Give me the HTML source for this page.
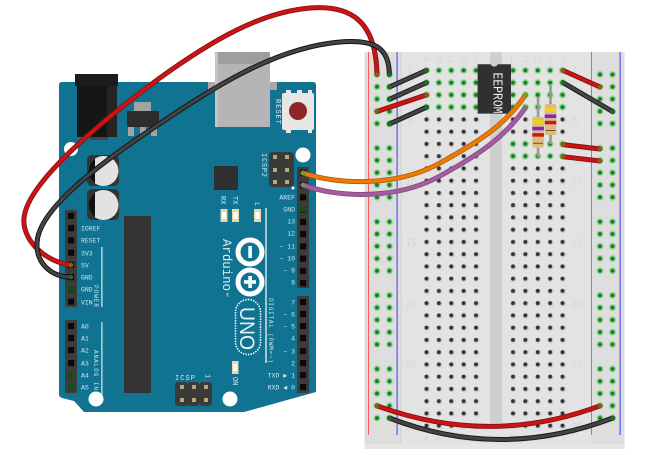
<!DOCTYPE html>
<html>
<head>
<meta charset="utf-8">
<style>
html,body{margin:0;padding:0;background:#fff;width:651px;height:455px;overflow:hidden}
svg{display:block}
text{font-family:"Liberation Mono",monospace}
.l{fill:#cfe6ee;font-size:6.5px}
.b{fill:#d6d6d6;font-size:9px;font-family:"Liberation Sans",sans-serif;text-anchor:middle}
.n{fill:#d6d6d6;font-size:10px;font-family:"Liberation Sans",sans-serif;text-anchor:middle}
.o{fill:none;stroke-linecap:round}
</style>
</head>
<body>
<svg width="651" height="455" viewBox="0 0 651 455" xmlns="http://www.w3.org/2000/svg">
<defs>
<pattern id="pd" patternUnits="userSpaceOnUse" x="420.31" y="64.275" width="12.38" height="12.25">
<circle cx="6.6" cy="6.6" r="3" fill="#cfcfcf"/><circle cx="6.19" cy="6.125" r="2" fill="#333"/>
</pattern>
<pattern id="pg" patternUnits="userSpaceOnUse" x="420.31" y="64.275" width="12.38" height="12.25">
<circle cx="6.19" cy="6.125" r="3.5" fill="#86df86"/><circle cx="6.19" cy="6.125" r="2" fill="#2a6f3a"/>
</pattern>
<pattern id="pdr" patternUnits="userSpaceOnUse" x="506.81" y="64.275" width="12.38" height="12.25">
<circle cx="6.6" cy="6.6" r="3" fill="#cfcfcf"/><circle cx="6.19" cy="6.125" r="2" fill="#333"/>
</pattern>
<pattern id="pgr" patternUnits="userSpaceOnUse" x="506.81" y="64.275" width="12.38" height="12.25">
<circle cx="6.19" cy="6.125" r="3.5" fill="#86df86"/><circle cx="6.19" cy="6.125" r="2" fill="#2a6f3a"/>
</pattern>
<pattern id="rl" patternUnits="userSpaceOnUse" x="370.75" y="68.365" width="12.5" height="12.27">
<circle cx="6.25" cy="6.135" r="3.5" fill="#86df86"/><circle cx="6.25" cy="6.135" r="2" fill="#2a6f3a"/>
</pattern>
<pattern id="rr" patternUnits="userSpaceOnUse" x="593.75" y="68.365" width="12.5" height="12.27">
<circle cx="6.25" cy="6.135" r="3.5" fill="#86df86"/><circle cx="6.25" cy="6.135" r="2" fill="#2a6f3a"/>
</pattern>
<pattern id="h1" patternUnits="userSpaceOnUse" x="65" y="209.8" width="12" height="12.25">
<rect x="3" y="3" width="6.2" height="6.2" fill="#0a0a0a"/>
</pattern>
<pattern id="h2" patternUnits="userSpaceOnUse" x="297" y="166.8" width="12" height="12.25">
<rect x="3" y="3" width="6.2" height="6.2" fill="#0a0a0a"/>
</pattern>
<clipPath id="c1"><rect x="80" y="150" width="15" height="75"/></clipPath>
</defs>

<!-- ARDUINO -->
<path d="M62 82H313Q316 82 316 85V392L244 412H84L74 401L62 398Q59 397 59 394V85Q59 82 62 82Z" fill="#0f7391"/>
<rect x="77" y="86" width="40" height="51" fill="#161616"/>
<rect x="107" y="86" width="10" height="51" fill="#242424"/>
<rect x="75" y="74" width="43" height="12" fill="#1c1c1c"/>
<rect x="90" y="137" width="18" height="3" fill="#444"/>
<circle cx="71" cy="149" r="7" fill="#fff"/>
<circle cx="303" cy="155" r="7.5" fill="#fff"/>
<circle cx="96" cy="399" r="7.5" fill="#fff"/>
<circle cx="230" cy="399" r="7.5" fill="#fff"/>

<!-- USB -->
<rect x="208" y="82" width="8" height="8" fill="#a8a8a8"/>
<rect x="269" y="82" width="8" height="8" fill="#a8a8a8"/>
<rect x="215" y="52" width="55" height="75" fill="#b5b5b5"/>
<rect x="218" y="52" width="52" height="12" fill="#9e9e9e"/>
<rect x="215" y="52" width="3" height="75" fill="#c4c4c4"/>

<!-- reset -->
<rect x="282" y="93" width="32" height="37" rx="2" fill="#e6e6e6"/>
<rect x="286" y="90" width="5" height="4" fill="#e6e6e6"/>
<rect x="297" y="90" width="5" height="4" fill="#e6e6e6"/>
<rect x="308" y="90" width="4" height="4" fill="#e6e6e6"/>
<rect x="286" y="129" width="5" height="4" fill="#e6e6e6"/>
<rect x="308" y="129" width="4" height="4" fill="#e6e6e6"/>
<circle cx="298" cy="111" r="9" fill="#8e2626"/>
<text class="l" transform="translate(276,99) rotate(90)" textLength="25" style="fill:#dfeef3;font-size:7px">RESET</text>

<!-- regulator -->
<rect x="134" y="102" width="17" height="9" fill="#a3a3a3"/>
<rect x="128" y="127" width="6" height="9" fill="#a3a3a3"/>
<rect x="140" y="127" width="6" height="9" fill="#a3a3a3"/>
<rect x="151" y="127" width="6" height="9" fill="#a3a3a3"/>
<rect x="127" y="111" width="32" height="16" fill="#2d2d2d"/>

<!-- capacitors -->
<rect x="87" y="155" width="32" height="31" rx="5" fill="#333"/>
<rect x="87" y="189" width="32" height="31" rx="5" fill="#333"/>
<circle cx="103.5" cy="171" r="15" fill="#e2e2e2"/>
<circle cx="103.5" cy="205" r="15" fill="#e2e2e2"/>
<circle cx="103.5" cy="171" r="15" fill="#111" clip-path="url(#c1)"/>
<circle cx="103.5" cy="205" r="15" fill="#111" clip-path="url(#c1)"/>

<!-- chips -->
<rect x="214" y="166" width="24" height="24" fill="#2f2f2f"/>
<rect x="124" y="216" width="27" height="177" fill="#333"/>

<!-- ICSP2 -->
<rect x="269" y="152" width="25" height="35" rx="4" fill="#3a3a3a"/>
<g fill="#b9a878">
<rect x="273" y="155" width="4" height="4"/><rect x="285" y="155" width="4" height="4"/>
<rect x="273" y="168" width="4" height="4"/><rect x="285" y="168" width="4" height="4"/>
<rect x="273" y="180" width="4" height="4"/><rect x="285" y="180" width="4" height="4"/>
</g>
<circle cx="293" cy="188" r="1.5" fill="#fff"/>
<text class="l" transform="translate(262,153) rotate(90)" textLength="24" style="font-size:7px">ICSP2</text>

<!-- LEDs -->
<g>
<rect x="220.5" y="209" width="7" height="13" fill="#e8d8a8"/><rect x="222" y="212" width="4" height="7" fill="#fff"/>
<rect x="232" y="209" width="7" height="13" fill="#e8d8a8"/><rect x="233.5" y="212" width="4" height="7" fill="#fff"/>
<rect x="254" y="209" width="7" height="13" fill="#e8d8a8"/><rect x="255.5" y="212" width="4" height="7" fill="#fff"/>
<rect x="232" y="361" width="6.5" height="13" fill="#e8d8a8"/><rect x="233.3" y="364" width="4" height="7" fill="#fff"/>
</g>
<text class="l" transform="translate(221,196) rotate(90)" style="font-size:7px">RX</text>
<text class="l" transform="translate(233,196) rotate(90)" style="font-size:7px">TX</text>
<text class="l" transform="translate(255,202) rotate(90)" style="font-size:7px">L</text>
<text class="l" transform="translate(233,377) rotate(90)" style="font-size:7px">ON</text>

<rect x="265.3" y="208" width="1.4" height="155" fill="#dcecf1"/>
<rect x="101.3" y="247" width="1.2" height="60" fill="#dcecf1"/>
<rect x="101.3" y="322" width="1.2" height="73" fill="#dcecf1"/>

<!-- headers -->
<rect x="65" y="210" width="12" height="97" fill="#3c3c3c"/>
<rect x="65" y="210" width="12" height="97" fill="url(#h1)"/>
<rect x="65" y="320" width="12" height="73" fill="#3c3c3c"/>
<g fill="#0a0a0a">
<rect x="68" y="323" width="6.2" height="6.2"/><rect x="68" y="335" width="6.2" height="6.2"/><rect x="68" y="347" width="6.2" height="6.2"/><rect x="68" y="360" width="6.2" height="6.2"/>
</g>
<g fill="#134d1c">
<rect x="68" y="372" width="6.2" height="6.2"/><rect x="68" y="384" width="6.2" height="6.2"/><rect x="68" y="286" width="6.2" height="6.2"/>
</g>
<rect x="297" y="167" width="12" height="121" fill="#3c3c3c"/>
<rect x="297" y="167" width="12" height="121" fill="url(#h2)"/>
<rect x="300" y="206" width="6.2" height="6.2" fill="#134d1c"/>
<rect x="297" y="296" width="12" height="97" fill="#3c3c3c"/>
<g fill="#0a0a0a">
<rect x="300" y="299" width="6.2" height="6.2"/><rect x="300" y="311" width="6.2" height="6.2"/><rect x="300" y="323" width="6.2" height="6.2"/><rect x="300" y="335" width="6.2" height="6.2"/><rect x="300" y="348" width="6.2" height="6.2"/><rect x="300" y="360" width="6.2" height="6.2"/><rect x="300" y="372" width="6.2" height="6.2"/><rect x="300" y="384" width="6.2" height="6.2"/>
</g>

<!-- left labels -->
<g class="l">
<text class="l" x="81" y="230.5">IOREF</text>
<text class="l" x="81" y="242.5">RESET</text>
<text class="l" x="81" y="255.5">3V3</text>
<text class="l" x="81" y="267.5">5V</text>
<text class="l" x="81" y="279.5">GND</text>
<text class="l" x="81" y="291.5">GND</text>
<text class="l" x="81" y="304.5">VIN</text>
<text class="l" x="81" y="328.5">A0</text>
<text class="l" x="81" y="340.5">A1</text>
<text class="l" x="81" y="352.5">A2</text>
<text class="l" x="81" y="365.5">A3</text>
<text class="l" x="81" y="377.5">A4</text>
<text class="l" x="81" y="389.5">A5</text>
</g>
<text class="l" transform="translate(94,285) rotate(90)" textLength="22" style="font-size:6px">POWER</text>
<text class="l" transform="translate(94,350) rotate(90)" textLength="40" style="font-size:6px">ANALOG IN</text>

<!-- right labels -->
<g text-anchor="end">
<text class="l" x="295" y="199.5" text-anchor="end">AREF</text>
<text class="l" x="295" y="211.5" text-anchor="end">GND</text>
<text class="l" x="295" y="223.5" text-anchor="end">13</text>
<text class="l" x="295" y="235.5" text-anchor="end">12</text>
<text class="l" x="295" y="248.5" text-anchor="end">~ 11</text>
<text class="l" x="295" y="260.5" text-anchor="end">~ 10</text>
<text class="l" x="295" y="272.5" text-anchor="end">~ 9</text>
<text class="l" x="295" y="284.5" text-anchor="end">8</text>
<text class="l" x="295" y="304.5" text-anchor="end">7</text>
<text class="l" x="295" y="316.5" text-anchor="end">~ 6</text>
<text class="l" x="295" y="328.5" text-anchor="end">~ 5</text>
<text class="l" x="295" y="340.5" text-anchor="end">4</text>
<text class="l" x="295" y="353.5" text-anchor="end">~ 3</text>
<text class="l" x="295" y="365.5" text-anchor="end">2</text>
<text class="l" x="295" y="377.5" text-anchor="end">TXD ▶ 1</text>
<text class="l" x="295" y="389.5" text-anchor="end">RXD ◀ 0</text>
</g>
<text class="l" transform="translate(269,298) rotate(90)" textLength="65" style="font-size:6px">DIGITAL (PWM=~)</text>

<!-- logo -->
<circle cx="250" cy="252" r="12" fill="none" stroke="#fff" stroke-width="5"/>
<circle cx="250" cy="282" r="12" fill="none" stroke="#fff" stroke-width="5"/>
<rect x="248.3" y="246" width="3.6" height="12" fill="#fff"/>
<rect x="248.3" y="276" width="3.6" height="12" fill="#fff"/>
<rect x="244" y="280.2" width="12" height="3.6" fill="#fff"/>
<text transform="translate(223,239) rotate(90)" textLength="52" fill="#dcecf1" style="font-size:12.5px">Arduino</text>
<text transform="translate(226,292) rotate(90)" fill="#dcecf1" style="font-size:4px">TM</text>

<rect x="235.5" y="299.5" width="25" height="55" rx="12.5" fill="none" stroke="#fff" stroke-width="1.6" stroke-dasharray="1.4 1.2"/>
<text transform="translate(240,307) rotate(90)" textLength="43" lengthAdjust="spacingAndGlyphs" fill="#e8f3f6" style="font-family:'Liberation Sans',sans-serif;font-size:21px">UNO</text>

<!-- ICSP -->
<rect x="175" y="382" width="12.5" height="24" rx="3" fill="#3a3a3a"/>
<rect x="187" y="382" width="12.5" height="24" rx="3" fill="#3a3a3a"/>
<rect x="199.5" y="382" width="12.5" height="24" rx="3" fill="#3a3a3a"/>
<g fill="#b9a878">
<rect x="180" y="385" width="4" height="4"/><rect x="192" y="385" width="4" height="4"/><rect x="204" y="385" width="4" height="4"/>
<rect x="180" y="398" width="4" height="4"/><rect x="192" y="398" width="4" height="4"/><rect x="204" y="398" width="4" height="4"/>
</g>
<text class="l" x="175" y="380" textLength="20" style="font-size:7px">ICSP</text>
<text class="l" transform="translate(205.5,374) rotate(90)" style="font-size:7px">1</text>

<!-- BREADBOARD -->
<rect x="364.5" y="52" width="260" height="397" fill="#dedede"/>
<rect x="401" y="52" width="190" height="392" fill="#e3e3e3"/>
<rect x="490" y="52" width="12" height="371" fill="#cfcfcf"/>
<rect x="400.5" y="52" width="1" height="392" fill="#d2d2d2"/>
<rect x="364.5" y="444" width="260" height="5" fill="#e6e6e6"/>
<rect x="368" y="52" width="1" height="383" fill="#ff5a5a"/>
<rect x="396.6" y="52" width="1" height="383" fill="#3a3aff"/>
<rect x="591" y="52" width="1" height="383" fill="#ff5a5a"/>
<rect x="619.6" y="52" width="1" height="383" fill="#3a3aff"/>

<g>
<text class="b" x="426.5" y="62">A</text><text class="b" x="438.9" y="62">B</text><text class="b" x="451.3" y="62">C</text><text class="b" x="463.7" y="62">D</text><text class="b" x="476" y="62">E</text>
<text class="b" x="513" y="62">F</text><text class="b" x="525.4" y="62">G</text><text class="b" x="537.8" y="62">H</text><text class="b" x="550.2" y="62">I</text><text class="b" x="562.6" y="62">J</text>
<text class="b" x="426.5" y="442">A</text><text class="b" x="438.9" y="442">B</text><text class="b" x="451.3" y="442">C</text><text class="b" x="463.7" y="442">D</text><text class="b" x="476" y="442">E</text>
<text class="b" x="513" y="442">F</text><text class="b" x="525.4" y="442">G</text><text class="b" x="537.8" y="442">H</text><text class="b" x="550.2" y="442">I</text><text class="b" x="562.6" y="442">J</text>
<text class="n" x="410" y="74">1</text><text class="n" x="410" y="123.5">5</text><text class="n" x="411" y="185">10</text><text class="n" x="411" y="246">15</text><text class="n" x="411" y="307.5">20</text><text class="n" x="411" y="368.5">25</text><text class="n" x="411" y="430">30</text>
<text class="n" x="575" y="74">1</text><text class="n" x="575" y="123.5">5</text><text class="n" x="577" y="185">10</text><text class="n" x="577" y="246">15</text><text class="n" x="577" y="307.5">20</text><text class="n" x="577" y="368.5">25</text><text class="n" x="577" y="430">30</text>
</g>

<!-- holes -->
<rect x="370.75" y="68.365" width="25" height="61.35" fill="url(#rl)"/>
<rect x="370.75" y="141.985" width="25" height="61.35" fill="url(#rl)"/>
<rect x="370.75" y="215.605" width="25" height="61.35" fill="url(#rl)"/>
<rect x="370.75" y="289.225" width="25" height="61.35" fill="url(#rl)"/>
<rect x="370.75" y="362.845" width="25" height="61.35" fill="url(#rl)"/>
<rect x="593.75" y="68.365" width="25" height="61.35" fill="url(#rr)"/>
<rect x="593.75" y="141.985" width="25" height="61.35" fill="url(#rr)"/>
<rect x="593.75" y="215.605" width="25" height="61.35" fill="url(#rr)"/>
<rect x="593.75" y="289.225" width="25" height="61.35" fill="url(#rr)"/>
<rect x="593.75" y="362.845" width="25" height="61.35" fill="url(#rr)"/>

<rect x="420.31" y="64.275" width="61.9" height="49" fill="url(#pg)"/>
<rect x="420.31" y="113.275" width="61.9" height="318.5" fill="url(#pd)"/>
<rect x="506.81" y="64.275" width="61.9" height="49" fill="url(#pgr)"/>
<rect x="506.81" y="113.275" width="61.9" height="24.5" fill="url(#pdr)"/>
<rect x="531.57" y="113.275" width="24.76" height="24.5" fill="url(#pgr)"/>
<rect x="506.81" y="137.775" width="61.9" height="24.5" fill="url(#pgr)"/>
<rect x="506.81" y="162.275" width="61.9" height="269.5" fill="url(#pdr)"/>

<!-- IC -->
<path d="M477.6 64.3H490.5Q494.3 69 498 64.3H511V113.6H477.6Z" fill="#303030"/>
<text transform="translate(493.5,72.5) rotate(90)" textLength="41" lengthAdjust="spacingAndGlyphs" fill="#ececec" style="font-size:14px">EEPROM</text>

<!-- resistors -->
<rect x="536.8" y="97" width="2.6" height="60" fill="#9a9a9a"/>
<rect x="549.2" y="84" width="2.6" height="60" fill="#9a9a9a"/>
<rect x="532.3" y="116.7" width="11.6" height="30.8" rx="2" fill="#dcbc82"/>
<rect x="532.3" y="120" width="11.6" height="3.5" fill="#f2d21a"/>
<rect x="532.3" y="126.8" width="11.6" height="3.5" fill="#8a1fc4"/>
<rect x="532.3" y="133.2" width="11.6" height="3.5" fill="#c81818"/>
<rect x="533" y="142.8" width="10" height="1" fill="#6d5a20"/>
<rect x="544.7" y="104" width="11.6" height="31" rx="2" fill="#dcbc82"/>
<rect x="544.7" y="108.2" width="11.6" height="3.5" fill="#f2d21a"/>
<rect x="544.7" y="114.5" width="11.6" height="3.5" fill="#8a1fc4"/>
<rect x="544.7" y="120.8" width="11.6" height="3.5" fill="#c81818"/>
<rect x="545.5" y="130" width="10" height="1" fill="#6d5a20"/>

<!-- short wires -->
<g class="o" stroke="#1d1d1d" stroke-width="5">
<path d="M389.4 87L426.5 70.4"/><path d="M389.4 99.3L426.5 82.6"/><path d="M389.4 124L426.5 107.2"/>
<path d="M563 82.6L612.7 111.6"/>
</g>
<g class="o" stroke="#444" stroke-width="3">
<path d="M389.4 87L426.5 70.4"/><path d="M389.4 99.3L426.5 82.6"/><path d="M389.4 124L426.5 107.2"/>
<path d="M563 82.6L612.7 111.6"/>
</g>
<g class="o" stroke="#8a1212" stroke-width="5">
<path d="M377 111.5L426.5 94.9"/><path d="M563 70.4L600 87"/><path d="M563 144.6L600 149"/><path d="M563 156.7L600 161"/>
</g>
<g class="o" stroke="#cc1414" stroke-width="3">
<path d="M377 111.5L426.5 94.9"/><path d="M563 70.4L600 87"/><path d="M563 144.6L600 149"/><path d="M563 156.7L600 161"/>
</g>

<!-- bottom wires -->
<path class="o" d="M389.4 418Q500 461 612.7 418" stroke="#1d1d1d" stroke-width="5"/>
<path class="o" d="M389.4 418Q500 461 612.7 418" stroke="#444" stroke-width="3"/>
<path class="o" d="M377 405.8Q490 447 600 405.8" stroke="#8a1212" stroke-width="5"/>
<path class="o" d="M377 405.8Q490 447 600 405.8" stroke="#cc1414" stroke-width="3"/>

<!-- orange & purple -->
<path class="o" d="M303 173C335 184 395 188 440 163C480 141 505 125 525.5 95" stroke="#a85a10" stroke-width="5"/>
<path class="o" d="M303 173C335 184 395 188 440 163C480 141 505 125 525.5 95" stroke="#ef7a00" stroke-width="3.4"/>
<path class="o" d="M303 185C335 197 395 201 440 176C480 154 505 137 525.5 107.5" stroke="#7c4a78" stroke-width="5"/>
<path class="o" d="M303 185C335 197 395 201 440 176C480 154 505 137 525.5 107.5" stroke="#a85aa0" stroke-width="3.4"/>

<!-- long wires -->
<path class="o" d="M71 265C45 262 22 240 24 218C27 185 90 130 157 80C215 38 262 12 310 8C350 5 376 20 377 74.5" stroke="#8a1212" stroke-width="5"/>
<path class="o" d="M71 265C45 262 22 240 24 218C27 185 90 130 157 80C215 38 262 12 310 8C350 5 376 20 377 74.5" stroke="#cc1414" stroke-width="3.2"/>
<path class="o" d="M71 277C50 277 36 262 37 243C38 215 80 178 140 137C205 93 270 48 340 42C378 39 389 50 389.4 74.5" stroke="#151515" stroke-width="5"/>
<path class="o" d="M71 277C50 277 36 262 37 243C38 215 80 178 140 137C205 93 270 48 340 42C378 39 389 50 389.4 74.5" stroke="#444" stroke-width="3"/>

<!-- wire end caps -->
<g fill="#8b5a1c">
<circle cx="377" cy="74.5" r="2.3"/><circle cx="377" cy="111.5" r="2.3"/><circle cx="426.5" cy="94.9" r="2.3"/><circle cx="563" cy="70.4" r="2.3"/><circle cx="600" cy="87" r="2.3"/><circle cx="563" cy="144.6" r="2.3"/><circle cx="600" cy="149" r="2.3"/><circle cx="563" cy="156.7" r="2.3"/><circle cx="600" cy="161" r="2.3"/><circle cx="377" cy="405.8" r="2.3"/><circle cx="600" cy="405.8" r="2.3"/><circle cx="71" cy="265" r="2.3"/>
</g>
<g fill="#1f6b2c">
<circle cx="389.4" cy="74.5" r="2.3"/><circle cx="389.4" cy="87" r="2.3"/><circle cx="426.5" cy="70.4" r="2.3"/><circle cx="389.4" cy="99.3" r="2.3"/><circle cx="426.5" cy="82.6" r="2.3"/><circle cx="389.4" cy="124" r="2.3"/><circle cx="426.5" cy="107.2" r="2.3"/><circle cx="563" cy="82.6" r="2.3"/><circle cx="612.7" cy="111.6" r="2.3"/><circle cx="389.4" cy="418" r="2.3"/><circle cx="612.7" cy="418" r="2.3"/><circle cx="71" cy="277" r="2.3"/>
</g>
<circle cx="525.5" cy="95" r="2.3" fill="#7a9a20"/>
<circle cx="525.5" cy="107.5" r="2.3" fill="#7a7a70"/>
<circle cx="303" cy="173" r="2.5" fill="#7a9a20"/>
<circle cx="303" cy="185" r="2.5" fill="#7a8a70"/>
</svg>
</body>
</html>
